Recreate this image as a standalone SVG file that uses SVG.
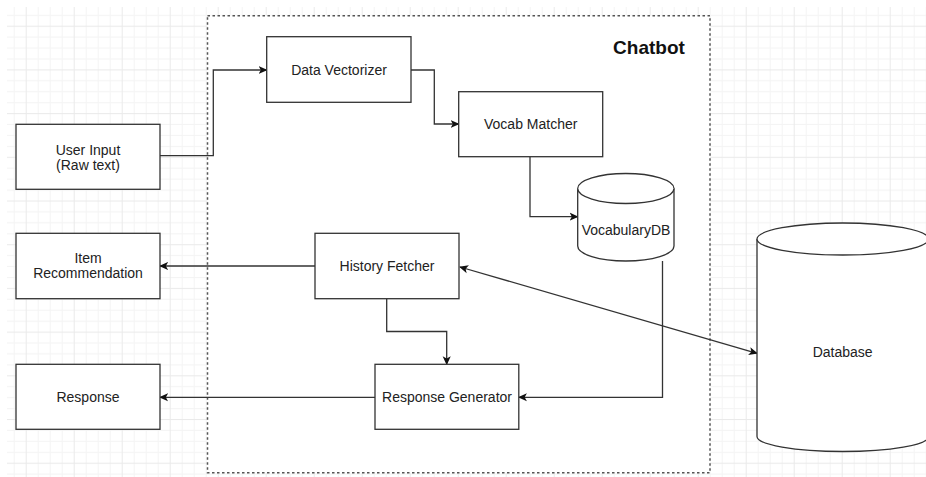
<svg xmlns="http://www.w3.org/2000/svg" width="926" height="477" viewBox="0 0 926 477">
<style>
.box{fill:#fff;stroke:#333;stroke-width:1.3}
.lbl{font-family:"Liberation Sans",Arial,sans-serif;font-size:14px;fill:#222;text-anchor:middle}
.conn{fill:none;stroke:#333;stroke-width:1.3}
</style>
<defs>
<pattern id="grid" patternUnits="userSpaceOnUse" x="25.7" y="25.7" width="48" height="43.7">
<rect x="0" y="0" width="48" height="43.7" fill="#fff"/>
<g fill="#f4f4f4">
<rect x="12" y="0" width="1" height="43.7"/>
<rect x="24" y="0" width="1" height="43.7"/>
<rect x="36" y="0" width="1" height="43.7"/>
<rect x="0" y="10.9" width="48" height="1"/>
<rect x="0" y="21.8" width="48" height="1"/>
<rect x="0" y="32.8" width="48" height="1"/>
</g>
<g fill="#eaeaea">
<rect x="0" y="0" width="1" height="43.7"/>
<rect x="0" y="0" width="48" height="1"/>
</g>
</pattern>
<marker id="arr" viewBox="0 0 10 10" refX="9" refY="5" markerWidth="9" markerHeight="9" markerUnits="userSpaceOnUse" orient="auto-start-reverse">
<path d="M0,0.5 L10,5 L0,9.5 L2.5,5 Z" fill="#111"/>
</marker>
</defs>
<rect x="0" y="0" width="926" height="477" fill="#fff"/>
<rect x="7" y="7" width="919" height="470" fill="url(#grid)"/>

<g id="chatbot">
<rect x="207.5" y="15.7" width="502.5" height="457" fill="#fff" stroke="#555" stroke-width="1.5" stroke-dasharray="2.5 2.5"/>
<text x="649" y="54" font-family="'Liberation Sans',Arial,sans-serif" font-size="19" font-weight="bold" fill="#111" text-anchor="middle">Chatbot</text>
</g>

<g id="connectors">
<path class="conn" d="M160,155.7 H213.3 V70 H266.7" marker-end="url(#arr)"/>
<path class="conn" d="M411,70 H434.3 V124 H458.7" marker-end="url(#arr)"/>
<path class="conn" d="M530,156.7 V216.7 H577.7" marker-end="url(#arr)"/>
<path class="conn" d="M662.5,261 V397.3 H518.8" marker-end="url(#arr)"/>
<path class="conn" d="M315,266 H160" marker-end="url(#arr)"/>
<path class="conn" d="M386.7,298.7 V331.5 H446.7 V364.3" marker-end="url(#arr)"/>
<path class="conn" d="M375,397.3 H160" marker-end="url(#arr)"/>
<path class="conn" d="M460,267 L757,353.3" marker-start="url(#arr)" marker-end="url(#arr)"/>
</g>

<g id="user-input">
<rect class="box" x="16" y="124.3" width="144" height="65"/>
<text class="lbl" x="88" y="154.7">User Input</text>
<text class="lbl" x="88" y="170">(Raw text)</text>
</g>

<g id="item-recommendation">
<rect class="box" x="16" y="233.3" width="144" height="65.4"/>
<text class="lbl" x="88" y="263.3">Item</text>
<text class="lbl" x="88" y="278.3">Recommendation</text>
</g>

<g id="response">
<rect class="box" x="16" y="364.3" width="144" height="65"/>
<text class="lbl" x="88" y="402.3">Response</text>
</g>

<g id="data-vectorizer">
<rect class="box" x="266.7" y="36.7" width="144.3" height="65.6"/>
<text class="lbl" x="339" y="75">Data Vectorizer</text>
</g>

<g id="vocab-matcher">
<rect class="box" x="458.7" y="91.7" width="144" height="65"/>
<text class="lbl" x="530.7" y="129">Vocab Matcher</text>
</g>

<g id="vocabulary-db">
<path class="box" d="M577.7,188.5 A48.15,15 0 0 1 674,188.5 V246 A48.15,15 0 0 1 577.7,246 Z"/>
<path class="box" fill="none" d="M577.7,188.5 A48.15,15 0 0 0 674,188.5"/>
<text class="lbl" x="626" y="235" font-size="14.5">VocabularyDB</text>
</g>

<g id="history-fetcher">
<rect class="box" x="315" y="233.3" width="144" height="65.4"/>
<text class="lbl" x="387" y="271">History Fetcher</text>
</g>

<g id="response-generator">
<rect class="box" x="375" y="364.3" width="143.8" height="65"/>
<text class="lbl" x="447" y="402.3">Response Generator</text>
</g>

<g id="database">
<path class="box" d="M757,239 A85.7,16 0 0 1 928.4,239 V436.5 A85.7,15 0 0 1 757,436.5 Z"/>
<path class="box" fill="none" d="M757,239 A85.7,16 0 0 0 928.4,239"/>
<text class="lbl" x="842.7" y="356.7">Database</text>
</g>
</svg>
